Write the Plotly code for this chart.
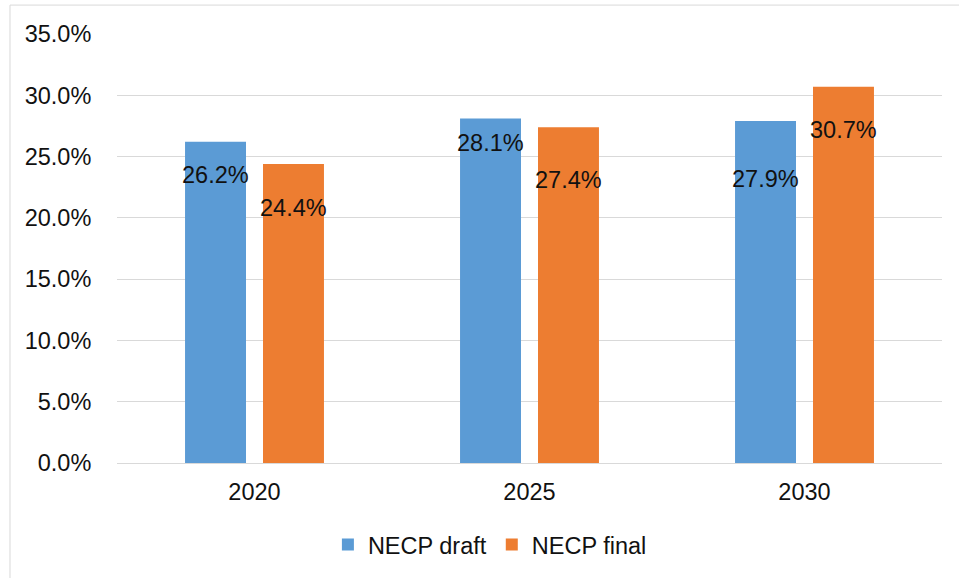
import plotly.graph_objects as go

years = ["2020", "2025", "2030"]
necp_draft = [0.262, 0.281, 0.279]
necp_final = [0.244, 0.274, 0.307]
series_names = ["NECP draft", "NECP final"]
colors = ["#5B9BD5", "#ED7D31"]

# vertical pixel offsets of the data labels below bar tops (as placed in the original)
label_offsets_draft = [-33.5, -24, -57.5]
label_offsets_final = [-44.5, -52.5, -43]

FONT = "Liberation Sans, Arial, sans-serif"
FS = 23.5

fig = go.Figure()
for name, vals, col in zip(series_names, [necp_draft, necp_final], colors):
    fig.add_trace(go.Bar(x=years, y=vals, name=name, marker_color=col,
                         marker_line_width=0, hoverinfo="skip"))

# data labels; category axis -> x given as category index
for vals, offs, shift in [(necp_draft, label_offsets_draft, -39),
                          (necp_final, label_offsets_final, 39)]:
    for i, (v, o) in enumerate(zip(vals, offs)):
        fig.add_annotation(x=i, y=v, xref="x", yref="y", text=f"{v*100:.1f}%",
                           showarrow=False, xshift=shift, yshift=o,
                           yanchor="middle", xanchor="center",
                           font=dict(family=FONT, size=FS, color="#111111"))

# outer chart border
fig.add_shape(type="rect", xref="paper", yref="paper",
              x0=-0.1297, x1=1.04, y0=-0.3, y1=1.0674,
              line=dict(color="#D9D9D9", width=1), fillcolor="rgba(0,0,0,0)", layer="below")

fig.update_layout(
    width=959, height=578,
    margin=dict(l=117, r=17, t=34, b=114),
    paper_bgcolor="white", plot_bgcolor="white",
    barmode="group", bargap=0.433, bargroupgap=0.218,
    font=dict(family=FONT, size=FS, color="#111111"),
    showlegend=True,
    legend=dict(orientation="h", x=0.452, xanchor="center", y=-0.188, yanchor="middle",
                font=dict(family=FONT, size=FS, color="#111111"),
                itemwidth=30, traceorder="normal"),
    xaxis=dict(type="category", range=[-0.5, 2.5], showline=True, linecolor="#D9D9D9",
               linewidth=1, showgrid=False,
               ticks="outside", ticklen=8, tickcolor="rgba(0,0,0,0)", tickfont=dict(size=FS)),
    yaxis=dict(range=[0, 0.35], dtick=0.05, tickformat=".1%", showgrid=True,
               gridcolor="#D9D9D9", gridwidth=1, zeroline=False, showline=False,
               ticks="outside", ticklen=20, tickcolor="rgba(0,0,0,0)", tickfont=dict(size=FS)),
)

fig.write_html("out.html")
